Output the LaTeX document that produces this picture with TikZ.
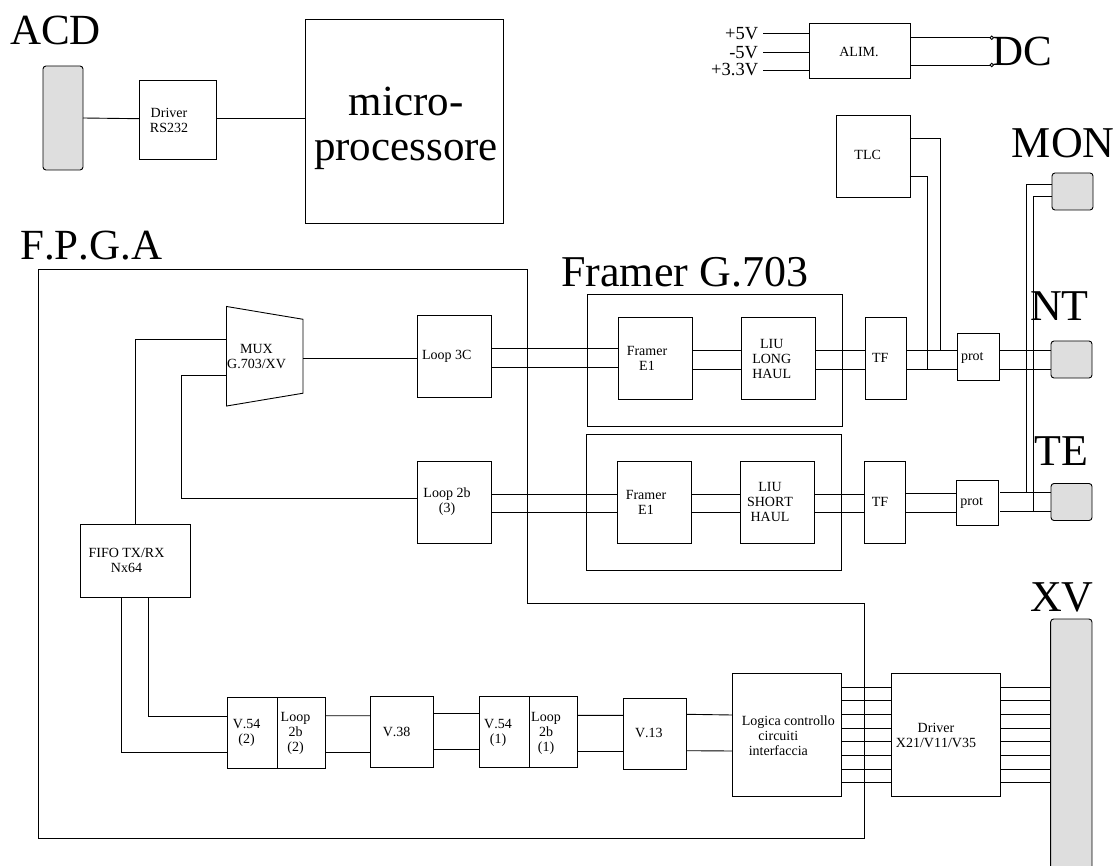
\documentclass[tikz,border=0pt]{standalone}
\usepackage{xcolor}
\usepackage{fontspec}
\setmainfont[Kerning=Off]{Liberation Serif}
\usetikzlibrary{positioning,shapes.geometric}
\definecolor{connfill}{HTML}{DEDEDE}

\begin{document}
\begin{tikzpicture}[x=1pt,y=-1pt,
  box/.style={draw,line width=.9pt,inner sep=0pt,outer sep=0pt},
  conn/.style={box,fill=connfill,rounded corners=3pt},
  muxbox/.style={box,inner sep=1pt,trapezium,trapezium stretches=true,trapezium angle=80.2,rotate=-90,minimum width=99.5pt,minimum height=76.5pt},
  pin/.style={box,circle,minimum size=3.5pt},
  wire/.style={line width=.9pt},
  lab/.style={align=center,inner sep=0pt,font=\fontsize{14}{15}\selectfont},
  volt/.style={anchor=east,inner sep=0pt,inner xsep=5pt,font=\fontsize{18.5}{18.5}\selectfont},
  bigtxt/.style={anchor=base west,inner sep=0pt,font=\fontsize{43}{45}\selectfont},
  largetxt/.style={bigtxt,font=\fontsize{44}{45}\selectfont}]
  \useasboundingbox (0,0) rectangle (1116,866);
  % top row
  \node[conn,minimum width=40pt,minimum height=104pt] (acd)   at (63,118)      {};
  \node[box,minimum width=77pt,minimum height=79pt]   (rs)    at (177.5,119.7) {};
  \node[box,minimum width=198.7pt,minimum height=204.3pt] (micro) at (404.3,121.8) {};
  \node[box,minimum width=100.7pt,minimum height=54.7pt]  (alim)  at (859.7,51.3) {};
  \node[box,minimum width=73.3pt,minimum height=82pt] (tlc)   at (873.3,156.3) {};
  \node[pin] (dcA) at (991.7,37.7) {};
  \node[pin] (dcB) at (991.7,65)   {};
  \node[volt] (vfive)  at (763.3,33.3) {+5V};
  \node[volt] (vneg)   at (763.3,52.3) {-5V};
  \node[volt] (vthree) at (763.3,70)   {+3.3V};
  % framer groups
  \node[box,minimum width=255pt,minimum height=132pt] (groupA) at (714.5,360) {};
  \node[box,minimum width=255pt,minimum height=136pt] (groupB) at (713.5,502) {};
  \node[box,minimum width=74pt,minimum height=82pt] (loopA)   at (454,356.7)   {};
  \node[box,minimum width=74pt,minimum height=82pt] (loopB)   at (454,502.3)   {};
  \node[box,minimum width=74pt,minimum height=82pt] (framerA) at (655.2,358.3) {};
  \node[box,minimum width=74pt,minimum height=82pt] (framerB) at (654.4,502.3) {};
  \node[box,minimum width=74pt,minimum height=82pt] (liuA)    at (778.2,358.3) {};
  \node[box,minimum width=74pt,minimum height=82pt] (liuB)    at (777.5,502.3) {};
  \node[box,minimum width=41pt,minimum height=82pt] (tfA)     at (885.5,358.3) {};
  \node[box,minimum width=41pt,minimum height=82pt] (tfB)     at (884.7,502.3) {};
  \node[box,minimum width=42pt,minimum height=47pt] (protA)   at (978,356.7)   {};
  \node[box,minimum width=41.3pt,minimum height=45pt] (protB) at (977.4,502.7) {};
  \node[conn,minimum width=41pt,minimum height=37pt] (mon) at (1072.5,191.5) {};
  \node[conn,minimum width=41pt,minimum height=37pt] (nt)  at (1071.5,359.5) {};
  \node[conn,minimum width=41pt,minimum height=37pt] (te)  at (1071.5,502)   {};
  \node[conn,minimum width=41.3pt,minimum height=262pt] (xv) at (1071.3,750) {};
  \node[muxbox] (mux) at (264.75,356.25) {};
  \node[box,minimum width=109.3pt,minimum height=73pt] (fifo) at (135.35,560.5) {};
  % lower chain
  \node[box,minimum width=49.6pt,minimum height=71pt] (vA)     at (252.2,732.6) {};
  \node[box,minimum width=48.8pt,minimum height=71pt] (lpA)    at (301.4,732.6) {};
  \node[box,minimum width=63pt,minimum height=71pt]   (vmid)   at (402.4,732.4) {};
  \node[box,minimum width=50pt,minimum height=71pt]   (vB)     at (504,732.4)   {};
  \node[box,minimum width=48.6pt,minimum height=71pt] (lpB)    at (553.3,732.4) {};
  \node[box,minimum width=63.2pt,minimum height=71pt] (vlast)  at (655,733.8)   {};
  \node[box,minimum width=109.4pt,minimum height=123pt] (logica) at (787,735.2) {};
  \node[box,minimum width=109.4pt,minimum height=123pt] (driver) at (946,735.2) {};
  % F.P.G.A outline
  \draw[wire] (38.5,269) -| (527,603) -| (864,838) -| cycle;
  % box texts
  \node[lab] (rstxt)     at (169,120)     {Driver\\RS232};
  \node[lab] (alimtxt)   at (859,51.7)    {ALIM.};
  \node[lab] (tlctxt)    at (867.7,155)   {TLC};
  \node[lab] (muxtxt)    at (256.5,356.5) {MUX\\G.703/XV};
  \node[lab] (loopAtxt)  at (446.7,356.7) {Loop 3C};
  \node[lab] (loopBtxt)  at (447,502)     {Loop 2b\\(3)};
  \node[lab] (fifotxt)   at (126.5,560)   {FIFO TX/RX\\Nx64};
  \node[lab] (framerAtxt) at (647,358)    {Framer\\E1};
  \node[lab] (framerBtxt) at (646,502)    {Framer\\E1};
  \node[lab] (liuAtxt)   at (771.7,358.7) {LIU\\LONG\\HAUL};
  \node[lab] (liuBtxt)   at (770,502.3)   {LIU\\SHORT\\HAUL};
  \node[lab] (tfAtxt)    at (880.3,358.3) {TF};
  \node[lab] (tfBtxt)    at (880,502.3)   {TF};
  \node[lab] (protAtxt)  at (972.3,357.7) {prot};
  \node[lab] (protBtxt)  at (971.7,502.7) {prot};
  \node[lab] (vAtxt)     at (246.6,733)   {V.54\\(2)};
  \node[lab] (lpAtxt)    at (295.5,733)   {Loop\\2b\\(2)};
  \node[lab] (vmidtxt)   at (396.6,732.3) {V.38};
  \node[lab] (vBtxt)     at (498,733)     {V.54\\(1)};
  \node[lab] (lpBtxt)    at (546,733)     {Loop\\2b\\(1)};
  \node[lab] (vlasttxt)  at (648.8,733.3) {V.13};
  \node[lab] (logicatxt) at (788.3,736)   {Logica controllo\\circuiti\kern20pt\\interfaccia\kern20pt};
  \node[lab] (drivertxt) at (936,735)     {Driver\\X21/V11/V35};
  % big titles
  \node[bigtxt] (acdtxt)    at (10,45)      {ACD};
  \node[bigtxt,anchor=center,align=center] (microtxt) at (406,128) {micro-\\processore};
  \node[bigtxt] (fpgatxt)   at (20,260)     {F.P.G.A};
  \node[largetxt] (framertxt) at (561,286.7)  {Framer G.703};
  \node[bigtxt] (dctxt)     at (992,66)     {DC};
  \node[largetxt] (montxt)    at (1011.7,158) {MON};
  \node[largetxt] (nttxt)     at (1030,320.7) {NT};
  \node[largetxt] (tetxt)     at (1034,465)   {TE};
  \node[largetxt] (xvtxt)     at (1030,611.7) {XV};
  % top wires
  \draw[wire] (acd.east) -- ([yshift=1]rs.west);
  \draw[wire] ([yshift=1]rs.east) -- ([yshift=3.1]micro.west);
  \draw[wire] (vfive.east) -- ([yshift=18]alim.west);
  \draw[wire] (vneg.east) -- ([yshift=-1]alim.west);
  \draw[wire] (vthree.east) -- ([yshift=-18.7]alim.west);
  \draw[wire] ([yshift=13.6]alim.east) -- (dcA);
  \draw[wire] ([yshift=-13.7]alim.east) -- (dcB);
  % MUX and FIFO
  \draw[wire] ([yshift=-1.75]mux.north) -- ([yshift=-1.3]loopA.west);
  \draw[wire] ([yshift=17.25]mux.south) -| (fifo.north);
  \draw[wire] ([yshift=-18.7]mux.south) -- ++(-45.5,0) |- ([yshift=4.3]loopB.west);
  \draw[wire] ([xshift=-13.85]fifo.south) |- ([yshift=-20]vA.west);
  \draw[wire] ([xshift=13.25]fifo.south) |- ([yshift=16.6]vA.west);
  % G.703 branches
  \draw[wire] ([yshift=8.4]loopA.east) -- ([yshift=10]framerA.west);
  \draw[wire] ([yshift=-10.3]loopA.east) -- ([yshift=-8.7]framerA.west);
  \draw[wire] ([yshift=8]framerA.east) -- ([yshift=8]liuA.west);
  \draw[wire] ([yshift=-11]framerA.east) -- ([yshift=-11]liuA.west);
  \draw[wire] ([yshift=8]liuA.east) -- ([yshift=8]tfA.west);
  \draw[wire] ([yshift=-11]liuA.east) -- ([yshift=-11]tfA.west);
  \draw[wire] ([yshift=8.3]tfA.east) -- ([yshift=6.7]protA.west);
  \draw[wire] ([yshift=-10.7]tfA.east) -- ([yshift=-12.3]protA.west);
  \draw[wire] ([yshift=6.7]protA.east) -- ([yshift=9.5]nt.west);
  \draw[wire] ([yshift=-12.3]protA.east) -- ([yshift=-9.5]nt.west);
  \draw[wire] ([yshift=8.3]loopB.east) -- ([yshift=8.3]framerB.west);
  \draw[wire] ([yshift=-10.2]loopB.east) -- ([yshift=-10.2]framerB.west);
  \draw[wire] ([yshift=8.3]framerB.east) -- ([yshift=8.3]liuB.west);
  \draw[wire] ([yshift=-10.4]framerB.east) -- ([yshift=-10.4]liuB.west);
  \draw[wire] ([yshift=8.3]liuB.east) -- ([yshift=8.3]tfB.west);
  \draw[wire] ([yshift=-10.4]liuB.east) -- ([yshift=-10.4]tfB.west);
  \draw[wire] ([yshift=8.6]tfB.east) -- ([yshift=9]protB.west);
  \draw[wire] ([yshift=-10.4]tfB.east) -- ([yshift=-10]protB.west);
  \draw[wire] ([xshift=2,yshift=10]protB.east) -- ([yshift=9.3]te.west);
  \draw[wire] ([xshift=2,yshift=-9]protB.east) -- ([yshift=-9.7]te.west);
  % TLC and MON taps
  \coordinate (tapA) at (940,350);
  \coordinate (tapB) at (927.3,369);
  \coordinate (tapC) at (1026.7,492.7);
  \coordinate (tapD) at (1033.3,511.7);
  \draw[wire] ([yshift=18]tlc.east) -| (tapA);
  \draw[wire] ([yshift=-19.7]tlc.east) -| (tapB);
  \draw[wire] ([yshift=7.5]mon.west) -| (tapC);
  \draw[wire] ([yshift=-5.2]mon.west) -| (tapD);
  % lower chain wires
  \draw[wire] ([yshift=16.9]lpA.east) -- ([yshift=16.7]vmid.west);
  \draw[wire] ([yshift=-19.4]lpA.east) -- ([yshift=-19.6]vmid.west);
  \draw[wire] ([yshift=19.1]vmid.east) -- ([yshift=19.1]vB.west);
  \draw[wire] ([yshift=-17.3]vmid.east) -- ([yshift=-17.3]vB.west);
  \draw[wire] ([yshift=17.1]lpB.east) -- ([yshift=18.5]vlast.west);
  \draw[wire] ([yshift=-19.3]lpB.east) -- ([yshift=-17.9]vlast.west);
  \draw[wire] ([yshift=19.5]vlast.east) -- ([yshift=20.2]logica.west);
  \draw[wire] ([yshift=-16.9]vlast.east) -- ([yshift=-15.8]logica.west);
  \foreach \s/\t in {47.9/62.7,34.5/49.3,20.9/35.7,7.2/22,-6.5/8.3,-20.1/-5.3,-33.8/-19,-47.5/-32.7} {
    \draw[wire] ([yshift=\s]logica.east) -- ([yshift=\s]driver.west);
    \draw[wire] ([yshift=\s]driver.east) -- ([yshift=\t]xv.west);
  }
\end{tikzpicture}
\end{document}
